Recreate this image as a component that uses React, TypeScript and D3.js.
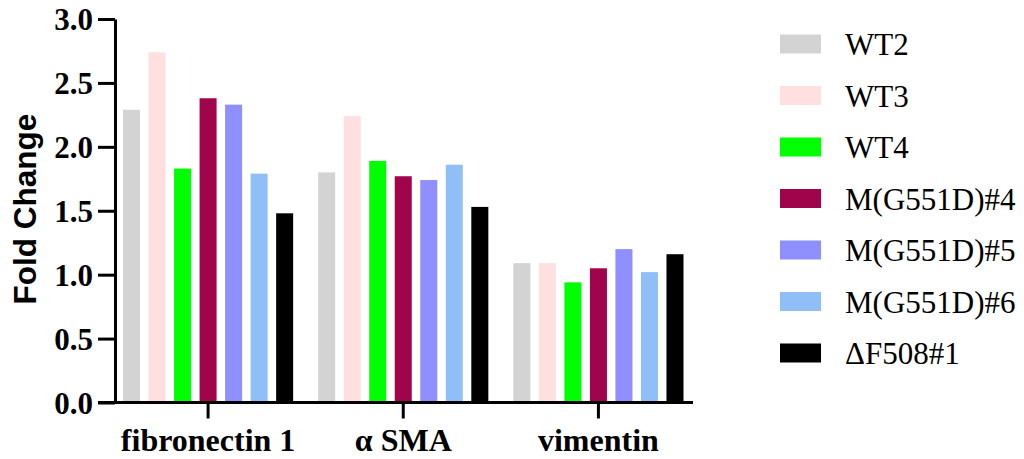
import React, { useEffect, useRef } from 'react';
import * as d3 from 'd3';

const genes = ['fibronectin 1', 'α SMA', 'vimentin'];
const lines = ['WT2', 'WT3', 'WT4', 'M(G551D)#4', 'M(G551D)#5', 'M(G551D)#6', 'ΔF508#1'];
const colors = ['#d3d3d3', '#ffdfe0', '#00ff00', '#a0044a', '#8f8fff', '#90bff8', '#000000'];

// fold change per cell line, one value per gene
const wt2 = [2.29, 1.8, 1.09];
const wt3 = [2.74, 2.24, 1.09];
const wt4 = [1.83, 1.89, 0.94];
const g551d4 = [2.38, 1.77, 1.05];
const g551d5 = [2.33, 1.74, 1.2];
const g551d6 = [1.79, 1.86, 1.02];
const df508 = [1.48, 1.53, 1.16];
const series = [wt2, wt3, wt4, g551d4, g551d5, g551d6, df508];

const yTicks = [0, 0.5, 1, 1.5, 2, 2.5, 3];

const serif = "'Liberation Serif', 'Times New Roman', serif";
const sans = "'Liberation Sans', Arial, sans-serif";

function App() {
  const ref = useRef<SVGSVGElement>(null);

  useEffect(() => {
    const svg = d3.select(ref.current);
    svg.selectAll('*').remove();

    const axisLeftX = 115;
    const axisRight = 693;

    const y = d3.scaleLinear().domain([0, 3]).range([402.5, 19]);
    const x0 = d3.scaleBand().domain(genes).range([110.5, 696]);
    const x1 = d3.scaleBand().domain(lines).range([0, x0.bandwidth()])
      .paddingInner(0.333).paddingOuter(0.49);

    // bars
    const groups = svg.append('g')
      .selectAll('g')
      .data(genes)
      .join('g')
      .attr('transform', d => `translate(${x0(d)},0)`);

    groups.selectAll('rect')
      .data((g, gi) => lines.map((l, li) => ({ l, li, v: series[li][gi] })))
      .join('rect')
      .attr('x', d => x1(d.l))
      .attr('width', x1.bandwidth())
      .attr('y', d => y(d.v))
      .attr('height', d => y(0) - y(d.v))
      .attr('fill', d => colors[d.li]);

    // y axis
    const yAxis = svg.append('g')
      .attr('transform', `translate(${axisLeftX},0)`)
      .call(d3.axisLeft(y).tickValues(yTicks).tickFormat(d3.format('.1f')).tickSize(17).tickSizeOuter(0))
      .attr('font-family', serif)
      .attr('font-size', 31)
      .attr('font-weight', 'bold');
    yAxis.select('.domain').attr('stroke', '#000').attr('stroke-width', 3);
    yAxis.selectAll('.tick line').attr('stroke', '#000').attr('stroke-width', 3);
    yAxis.selectAll('.tick text')
      .attr('x', -22)
      .attr('dy', '0.34em')
      .attr('fill', '#000');

    // x axis
    const xAxis = svg.append('g')
      .attr('transform', `translate(0,${y(0)})`)
      .call(d3.axisBottom(x0).tickSize(16).tickSizeOuter(0))
      .attr('font-family', serif)
      .attr('font-size', 32)
      .attr('font-weight', 'bold');
    xAxis.select('.domain').attr('d', `M${axisLeftX - 17},0H${axisRight}`)
      .attr('stroke', '#000').attr('stroke-width', 3);
    xAxis.selectAll('.tick line').attr('stroke', '#000').attr('stroke-width', 3);
    xAxis.selectAll('.tick text')
      .attr('y', 48)
      .attr('dy', 0)
      .attr('fill', '#000');

    // y title
    svg.append('text')
      .attr('transform', `translate(36,209) rotate(-90)`)
      .attr('text-anchor', 'middle')
      .attr('font-family', sans)
      .attr('font-weight', 'bold')
      .attr('font-size', 31.5)
      .text('Fold Change');

    // legend
    const legend = svg.append('g')
      .attr('font-family', serif)
      .attr('font-size', 31)
      .selectAll('g')
      .data(lines)
      .join('g')
      .attr('transform', (d, i) => `translate(780,${44 + i * 51.5})`);
    legend.append('rect')
      .attr('x', 0)
      .attr('y', -9.5)
      .attr('width', 41)
      .attr('height', 19)
      .attr('fill', (d, i) => colors[i]);
    legend.append('text')
      .attr('x', 65)
      .attr('y', 11)
      .attr('fill', '#000')
      .text(d => d);
  }, []);

  return (
    <svg ref={ref} width={1024} height={459}
      style={{ position: 'absolute', left: 0, top: 0, background: '#fff' }} />
  );
}

export default App;
